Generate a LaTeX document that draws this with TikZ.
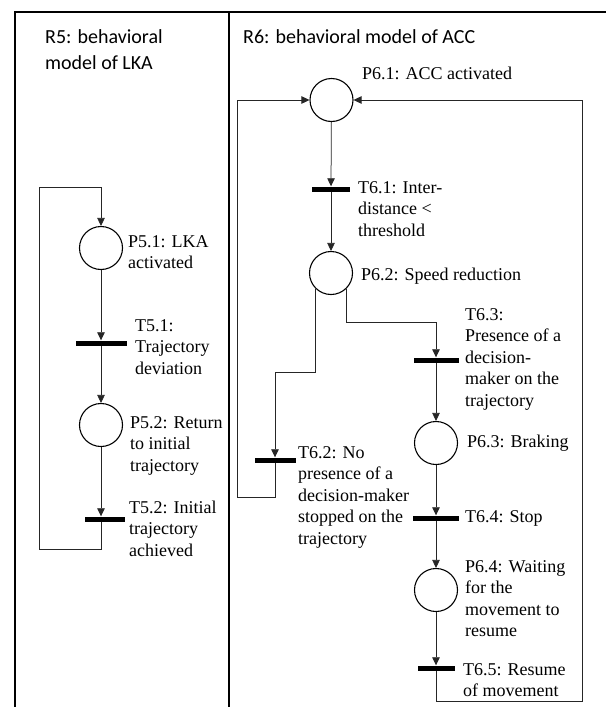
\documentclass[tikz,border=0pt]{standalone}
\usepackage{fontspec}
\setmainfont{Liberation Serif}
\newfontfamily\headfont{Carlito}
\usetikzlibrary{arrows.meta}

\begin{document}
\begin{tikzpicture}[x=1pt, y=-1pt,
  frame/.style={line width=1.5pt, draw=black},
  % multi-line texts: the base anchor sits on the last line
  head/.style={anchor=base west, inner sep=0pt, align=left,
    font=\headfont\fontsize{20}{26}\selectfont},
  place/.style={draw=black, circle, line width=1.1pt, minimum size=43pt, inner sep=0pt},
  trans/.style={fill=black, draw=none, rectangle, minimum height=5pt,
    inner sep=0pt, minimum width=#1},
  trans/.default=44pt,
  lbl/.style={anchor=base west, inner sep=0pt, align=left,
    font=\fontsize{18}{21.5}\selectfont},
  flow/.style={draw=black!85, line width=0.75pt,
    -{Triangle[length=8pt,width=7.5pt]}},
]
\useasboundingbox (0,0) rectangle (606,707);

% table frame
\draw[frame] (15,707) -- (15,12) -- (606,12);
\draw[frame] (229,12) -- (229,707);

% column headings
\node[head] (h5) at (45,69) {R5: behavioral\\model of LKA};
\node[head] (h6) at (243,43) {R6: behavioral model of ACC};

% ---------------- R5: LKA ----------------
\node[place] (p51) at (101,248) {};
\node[trans=51pt] (t51) at (101,343) {};
\node[place] (p52) at (101,425) {};
\node[trans=40pt] (t52) at (104.5,519) {};

\node[lbl] (lp51) at (128,268.5) {P5.1: LKA\\activated};
\node[lbl] (lt51) at (135,374) {T5.1:\\Trajectory\\deviation};
\node[lbl] (lp52) at (130,471) {P5.2: Return\\to initial\\trajectory};
\node[lbl] (lt52) at (129,556) {T5.2: Initial\\trajectory\\achieved};

\coordinate (a1) at (39,549);
\coordinate (a2) at (39,187);

\draw[flow] (p51) -- (t51.north);
\draw[flow] (t51.south) -- (p52);
\draw[flow] (p52) -- (p52 |- t52.north);
\draw[flow] (p52 |- t52.south) |- (a1) -- (a2) -| (p51.north);

% ---------------- R6: ACC ----------------
\node[place] (p61) at (331.5,100) {};
\node[trans=38pt] (t61) at (331,189) {};
\node[place] (p62) at (331,273) {};
\node[trans=41pt] (t62) at (275,460) {};
\node[trans=45pt] (t63) at (436,360) {};
\node[place] (p63) at (436,443) {};
\node[trans=46pt] (t64) at (436,518) {};
\node[place] (p64) at (436,590) {};
\node[trans=37pt] (t65) at (436,668) {};

\node[lbl] (lp61) at (362,79) {P6.1: ACC activated};
\node[lbl] (lt61) at (358,236) {T6.1: Inter-\\distance <\\threshold};
\node[lbl] (lp62) at (361,280) {P6.2: Speed reduction};
\node[lbl] (lt62) at (298,544) {T6.2: No\\presence of a\\decision-maker\\stopped on the\\trajectory};
\node[lbl] (lt63) at (465,406) {T6.3:\\Presence of a\\decision-\\maker on the\\trajectory};
\node[lbl] (lp63) at (467,447) {P6.3: Braking};
\node[lbl] (lt64) at (465,522) {T6.4: Stop};
\node[lbl] (lp64) at (465,636.5) {P6.4: Waiting\\for the\\movement to\\resume};
\node[lbl] (lt65) at (463,696.5) {T6.5: Resume\\of movement};

\coordinate (b1) at (436,322);
\coordinate (b2) at (275,372);
\coordinate (b3) at (237,497);
\coordinate (b4) at (582,701);

\draw[flow] (p61) -- (t61.north);
\draw[flow] (t61.south) -- (p62);
\draw[flow] (p62.south east) |- (b1) -- (t63.north);
\draw[flow] (p62.south west) |- (b2) -- (t62.north);
\draw[flow] (t62.south) |- (b3) |- (p61.west);
\draw[flow] (t63.south) -- (p63);
\draw[flow] (p63) -- (t64.north);
\draw[flow] (t64.south) -- (p64);
\draw[flow] (p64) -- (t65.north);
\draw[flow] (t65.south) |- (b4) |- (p61.east);
\end{tikzpicture}
\end{document}
